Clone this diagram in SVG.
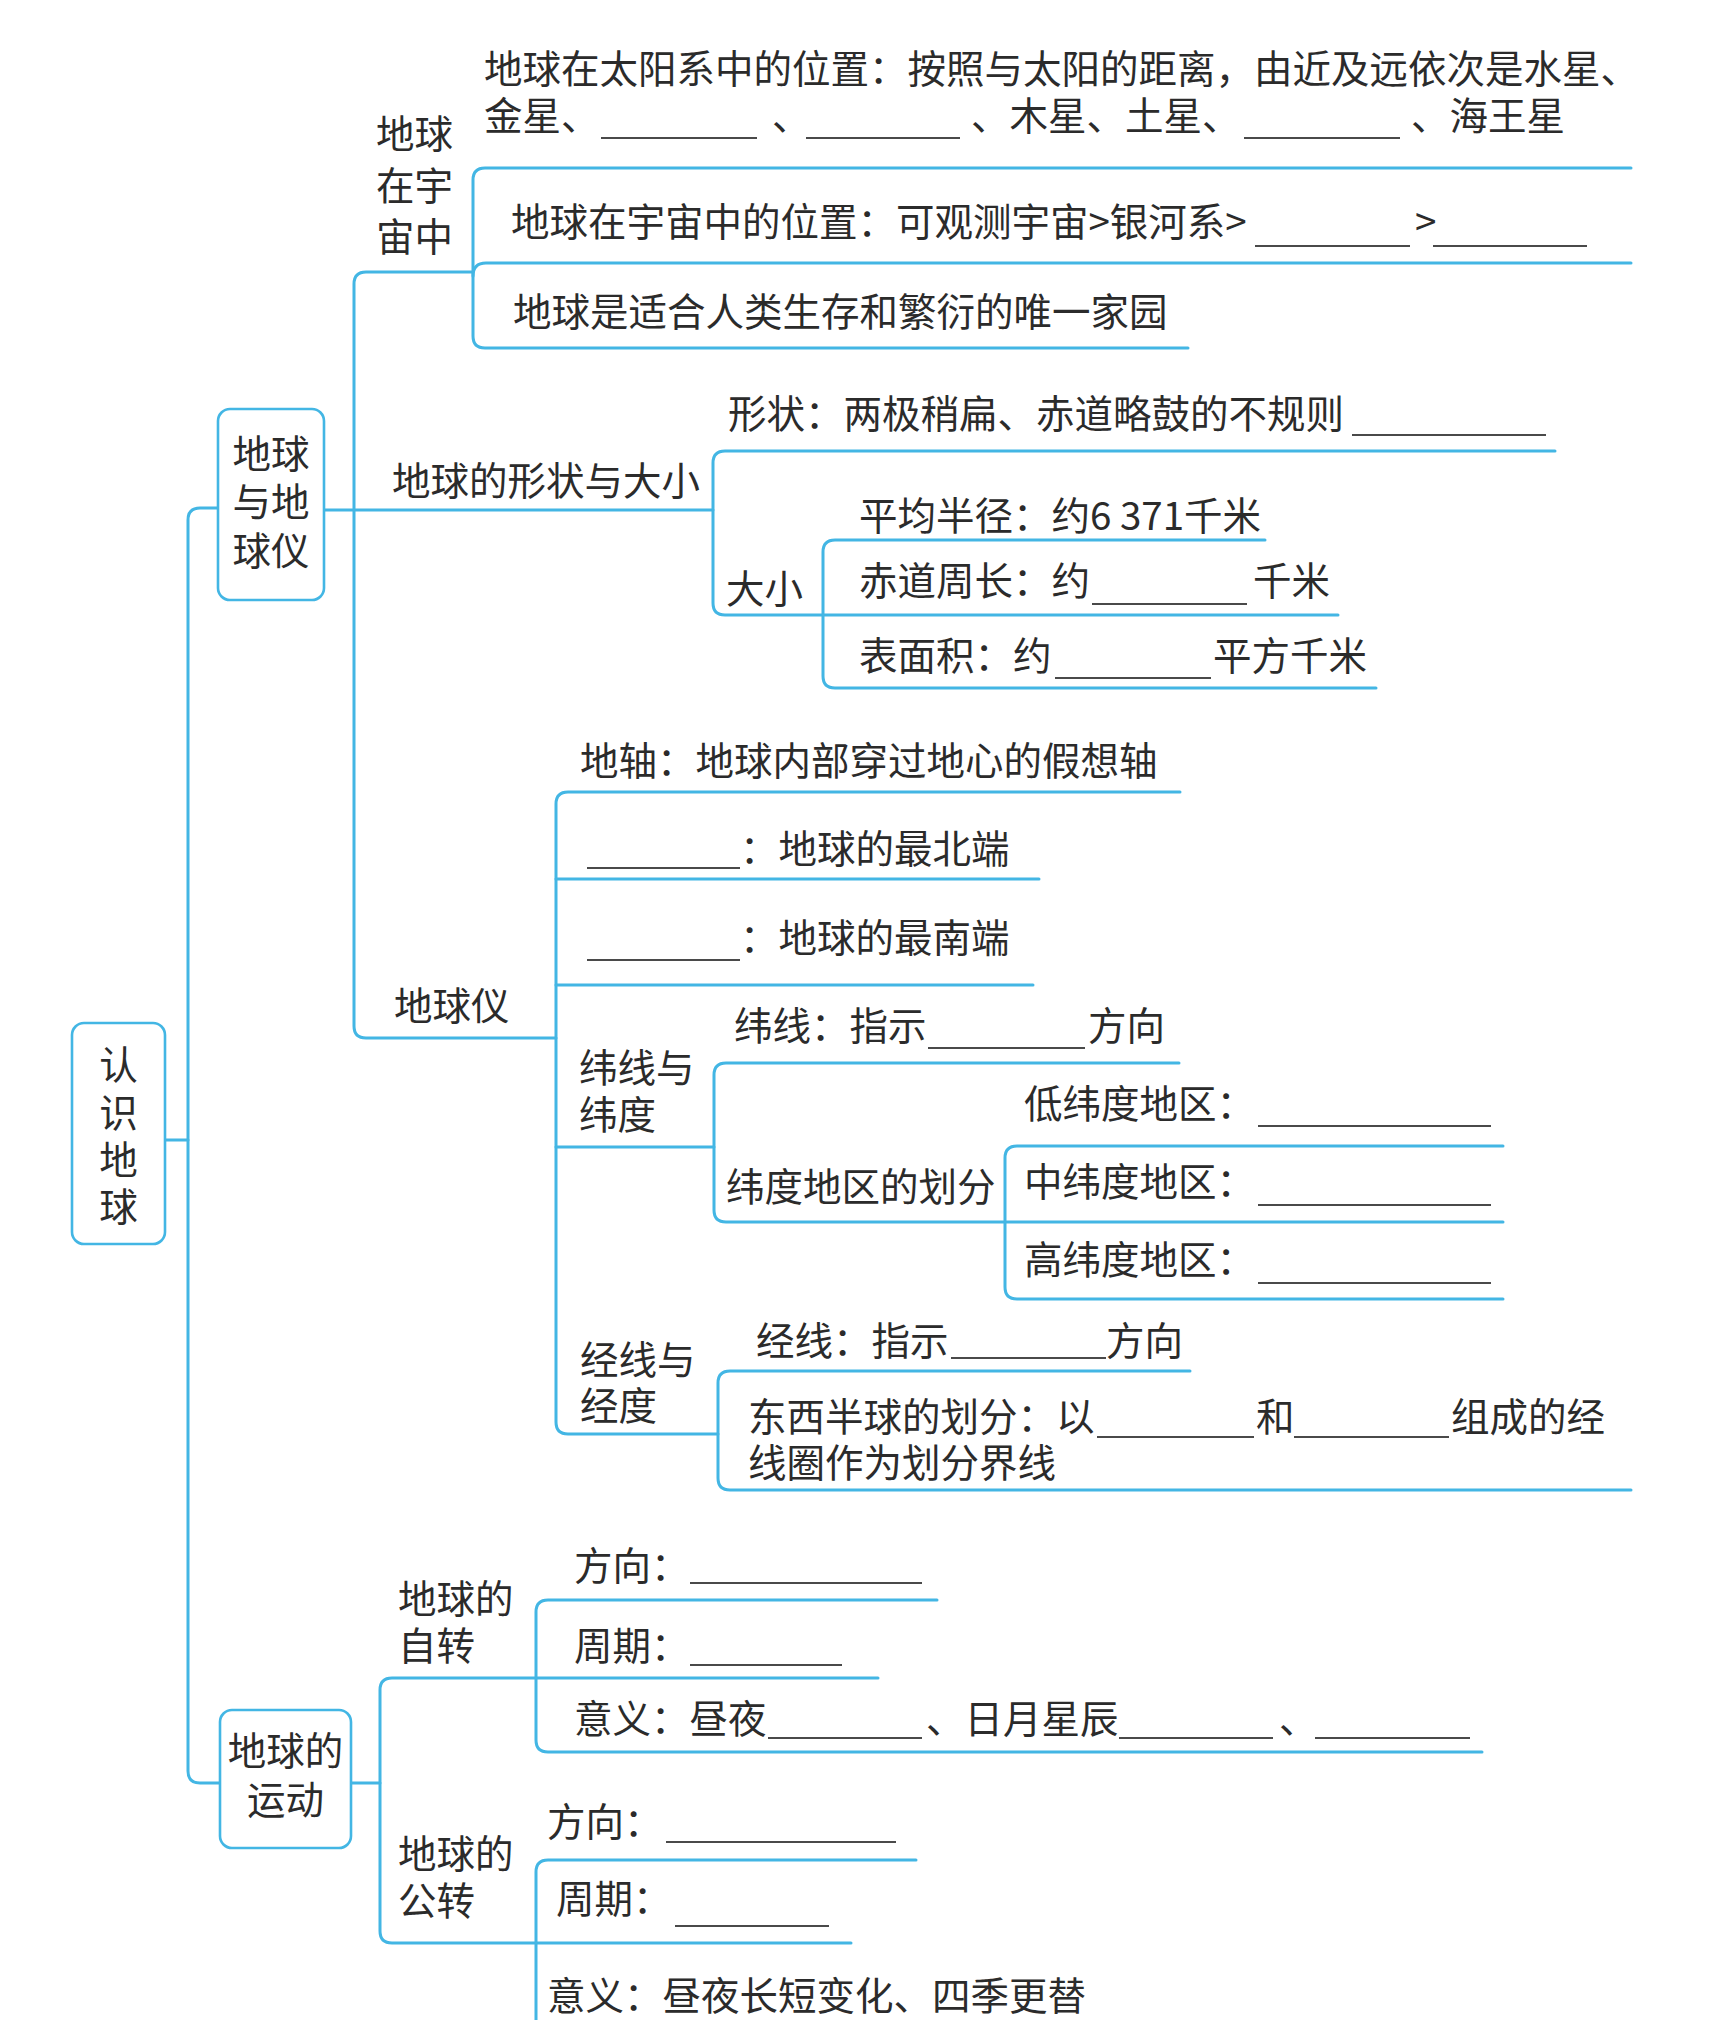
<svg xmlns="http://www.w3.org/2000/svg" width="1731" height="2020" viewBox="0 0 1731 2020">
<style>
.t{font-family:"Noto Sans CJK SC","Noto Sans",sans-serif;font-size:38.5px;fill:#2b2b2b;dominant-baseline:central}
.c{text-anchor:middle}
.ln{fill:none;stroke:#43b6e4;stroke-width:3;stroke-linecap:round}
.bx{fill:#fff;stroke:#43b6e4;stroke-width:2.6}
.bl{stroke:#4a4a4a;stroke-width:2}
</style>
<rect width="1731" height="2020" fill="#fff"/>
<g id="connectors" class="ln">
<path d="M165,1140 H188"/>
<path d="M218,508 H200 Q188,508 188,520 V1771 Q188,1783 200,1783 H220"/>
<path d="M324,510 H713"/>
<path d="M473,272 H366 Q354,272 354,284 V1026 Q354,1038 366,1038 H556"/>
<path d="M1631,168 H485 Q473,168 473,180 V336 Q473,348 485,348 H1188"/>
<path d="M473,276 Q473,263 486,263 H1631"/>
<path d="M1555,451 H725 Q713,451 713,463 V603 Q713,615 725,615 H1338"/>
<path d="M1265,540 H835 Q823,540 823,552 V676 Q823,688 835,688 H1376"/>
<path d="M1180,792 H568 Q556,792 556,804 V1422 Q556,1434 568,1434 H718"/>
<path d="M556,879 H1039"/>
<path d="M556,985 H1033"/>
<path d="M556,1147 H714"/>
<path d="M1179,1063 H726 Q714,1063 714,1075 V1210 Q714,1222 726,1222 H1503"/>
<path d="M1503,1146 H1017 Q1005,1146 1005,1158 V1287 Q1005,1299 1017,1299 H1503"/>
<path d="M1190,1371 H730 Q718,1371 718,1383 V1478 Q718,1490 730,1490 H1631"/>
<path d="M351,1783 H380"/>
<path d="M878,1678 H392 Q380,1678 380,1690 V1931 Q380,1943 392,1943 H851"/>
<path d="M937,1600 H548 Q536,1600 536,1612 V1740 Q536,1752 548,1752 H1482"/>
<path d="M916,1860 H548 Q536,1860 536,1872 V2020"/>
</g>
<g id="blanks" class="bl">
<line x1="601" y1="138" x2="757" y2="138"/>
<line x1="806" y1="138" x2="960" y2="138"/>
<line x1="1244" y1="138" x2="1400" y2="138"/>
<line x1="1255" y1="246" x2="1410" y2="246"/>
<line x1="1433" y1="246" x2="1587" y2="246"/>
<line x1="1352" y1="435" x2="1546" y2="435"/>
<line x1="1092" y1="604" x2="1247" y2="604"/>
<line x1="1055" y1="678" x2="1211" y2="678"/>
<line x1="587" y1="868" x2="740" y2="868"/>
<line x1="587" y1="960" x2="740" y2="960"/>
<line x1="928" y1="1048" x2="1085" y2="1048"/>
<line x1="1258" y1="1126" x2="1491" y2="1126"/>
<line x1="1258" y1="1205" x2="1491" y2="1205"/>
<line x1="1258" y1="1283" x2="1491" y2="1283"/>
<line x1="951" y1="1358" x2="1106" y2="1358"/>
<line x1="1097" y1="1437" x2="1254" y2="1437"/>
<line x1="1294" y1="1437" x2="1449" y2="1437"/>
<line x1="690" y1="1583" x2="922" y2="1583"/>
<line x1="690" y1="1665" x2="842" y2="1665"/>
<line x1="768" y1="1738" x2="922" y2="1738"/>
<line x1="1119" y1="1738" x2="1273" y2="1738"/>
<line x1="1315" y1="1738" x2="1470" y2="1738"/>
<line x1="666" y1="1842" x2="896" y2="1842"/>
<line x1="675" y1="1926" x2="829" y2="1926"/>
</g>
<g id="node-root">
<rect class="bx" x="72" y="1023" width="93" height="221" rx="12"/>
<text class="t c" x="118.5" y="1062">认<tspan x="118.5" dy="48">识</tspan><tspan x="118.5" dy="47">地</tspan><tspan x="118.5" dy="47">球</tspan></text>
</g>
<g id="node-earth-globe">
<rect class="bx" x="218" y="409" width="106" height="191" rx="12"/>
<text class="t c" x="271" y="451">地球<tspan x="271" dy="48">与地</tspan><tspan x="271" dy="49">球仪</tspan></text>
</g>
<g id="node-universe">
<text class="t" x="376" y="131">地球<tspan x="376" dy="52">在宇</tspan><tspan x="376" dy="51">宙中</tspan></text>
</g>
<g id="node-solar">
<text class="t" x="484" y="66">地球在太阳系中的位置：按照与太阳的距离，由近及远依次是水星、<tspan x="484" dy="47">金星、</tspan><tspan x="772">、</tspan><tspan x="971">、木星、土星、</tspan><tspan x="1411">、海王星</tspan></text>
</g>
<g id="node-position">
<text class="t" x="511" y="219">地球在宇宙中的位置：可观测宇宙&gt;银河系&gt;<tspan x="1415">&gt;</tspan></text>
</g>
<g id="node-home"><text class="t" x="513" y="309">地球是适合人类生存和繁衍的唯一家园</text></g>
<g id="node-shape-size"><text class="t" x="392" y="478">地球的形状与大小</text></g>
<g id="node-shape"><text class="t" x="728" y="411">形状：两极稍扁、赤道略鼓的不规则</text></g>
<g id="node-size"><text class="t" x="726" y="586">大小</text></g>
<g id="node-radius"><text class="t" x="859" y="513">平均半径：约6 371千米</text></g>
<g id="node-equator">
<text class="t" x="859" y="578">赤道周长：约<tspan x="1253">千米</tspan></text>
</g>
<g id="node-area">
<text class="t" x="859" y="653">表面积：约<tspan x="1213">平方千米</tspan></text>
</g>
<g id="node-globe"><text class="t" x="394" y="1003">地球仪</text></g>
<g id="node-axis"><text class="t" x="580" y="758">地轴：地球内部穿过地心的假想轴</text></g>
<g id="node-north"><text class="t" x="740" y="846">：地球的最北端</text></g>
<g id="node-south"><text class="t" x="740" y="935">：地球的最南端</text></g>
<g id="node-latitude">
<text class="t" x="579" y="1065">纬线与<tspan x="579" dy="47">纬度</tspan></text>
</g>
<g id="node-lat-line">
<text class="t" x="734" y="1023">纬线：指示<tspan x="1088">方向</tspan></text>
</g>
<g id="node-lat-zones"><text class="t" x="726" y="1184">纬度地区的划分</text></g>
<g id="node-low"><text class="t" x="1024" y="1101">低纬度地区：</text></g>
<g id="node-mid"><text class="t" x="1024" y="1179">中纬度地区：</text></g>
<g id="node-high"><text class="t" x="1024" y="1257">高纬度地区：</text></g>
<g id="node-longitude">
<text class="t" x="580" y="1357">经线与<tspan x="580" dy="46">经度</tspan></text>
</g>
<g id="node-lon-line">
<text class="t" x="756" y="1338">经线：指示<tspan x="1106">方向</tspan></text>
</g>
<g id="node-hemisphere">
<text class="t" x="748" y="1414">东西半球的划分：以<tspan x="1256">和</tspan><tspan x="1451">组成的经</tspan><tspan x="748" dy="46">线圈作为划分界线</tspan></text>
</g>
<g id="node-motion">
<rect class="bx" x="220" y="1710" width="131" height="138" rx="12"/>
<text class="t c" x="285.5" y="1748">地球的<tspan x="285.5" dy="49">运动</tspan></text>
</g>
<g id="node-rotation">
<text class="t" x="398" y="1596">地球的<tspan x="398" dy="47">自转</tspan></text>
</g>
<g id="node-rot-dir"><text class="t" x="574" y="1563">方向：</text></g>
<g id="node-rot-period"><text class="t" x="574" y="1643">周期：</text></g>
<g id="node-rot-meaning">
<text class="t" x="574" y="1716">意义：昼夜<tspan x="926">、日月星辰</tspan><tspan x="1279">、</tspan></text>
</g>
<g id="node-revolution">
<text class="t" x="398" y="1851">地球的<tspan x="398" dy="47">公转</tspan></text>
</g>
<g id="node-rev-dir"><text class="t" x="547" y="1819">方向：</text></g>
<g id="node-rev-period"><text class="t" x="556" y="1896">周期：</text></g>
<g id="node-rev-meaning"><text class="t" x="547" y="1993">意义：昼夜长短变化、四季更替</text></g>
</svg>
